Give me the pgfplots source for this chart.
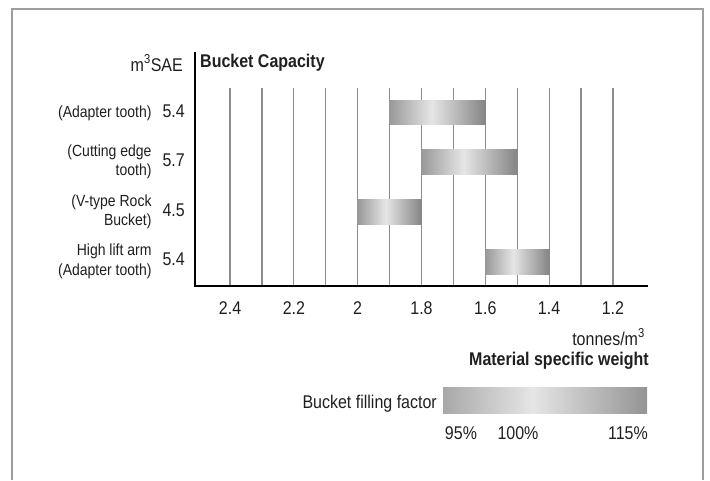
\documentclass[border=0pt]{standalone}
\usepackage{graphicx}
\usepackage{pgfplots}
\pgfplotsset{compat=1.18}
\usepackage{fontspec}
\setmainfont{Liberation Sans}

\definecolor{txt}{gray}{0.12}
\definecolor{gridc}{gray}{0.55}
\definecolor{frame}{gray}{0.62}
\definecolor{bL}{gray}{0.60}
\definecolor{bM}{gray}{0.90}
\definecolor{bR}{gray}{0.52}
\definecolor{lL}{gray}{0.66}
\definecolor{lM}{gray}{0.90}
\definecolor{lR}{gray}{0.58}

% path box maps onto 25bp..75bp of the shading
\pgfdeclarehorizontalshading{bucket}{100bp}{color(0bp)=(bL); color(25bp)=(bL); color(47bp)=(bM); color(75bp)=(bR); color(100bp)=(bR)}
\pgfdeclarehorizontalshading{legendbar}{100bp}{color(0bp)=(lL); color(25bp)=(lL); color(47bp)=(lM); color(75bp)=(lR); color(100bp)=(lR)}

\newcommand{\fbig}{\fontsize{16}{19}\selectfont}
\newcommand{\fsml}{\fontsize{14}{17}\selectfont}
% the reference lettering is a little taller than it is wide
\newcommand{\st}[1]{\scalebox{1}[1.15]{#1}}

\begin{document}
\begin{tikzpicture}
\path[use as bounding box] (0pt,0pt) rectangle (710pt,480pt);
\draw[frame, line width=1.5pt] (12pt,0pt) -- (12pt,471pt) -- (703pt,471pt) -- (703pt,0pt);

\begin{axis}[
    at={(195pt,194pt)}, anchor=south west,
    scale only axis, width=453pt, height=198pt,
    xmin=1.09, xmax=2.51, x dir=reverse,
    ymin=0.507, ymax=4.49, y dir=reverse,
    axis line style={draw=none},
    major tick length=0pt, minor tick length=0pt,
    xtick={1.2,1.4,1.6,1.8,2,2.2,2.4},
    minor xtick={1.3,1.5,1.7,1.9,2.1,2.3},
    xmajorgrids, xminorgrids,
    grid style={gridc, line width=1.2pt},
    minor grid style={gridc, line width=1.2pt},
    xticklabel={\st{\pgfmathprintnumber{\tick}}},
    xticklabel style={font=\fbig, text=txt, yshift=-12pt,
        /pgf/number format/assume math mode=true},
    ytick={1,2,3,4},
    yticklabels={
        {\st{{\fsml(Adapter tooth)}\hspace{11pt}5.4}},
        {\st{{\fsml\begin{tabular}{@{}r@{}}(Cutting edge\\tooth)\end{tabular}}\hspace{11pt}5.7}},
        {\st{{\fsml\begin{tabular}{@{}r@{}}(V-type Rock\\Bucket)\end{tabular}}\hspace{11pt}4.5}},
        {\st{{\fsml\begin{tabular}{@{}r@{}}High lift arm\\(Adapter tooth)\end{tabular}}\hspace{11pt}5.4}}
    },
    yticklabel style={font=\fbig, text=txt, anchor=east, xshift=-6.7pt},
]
% density ranges (tonnes/m3) for each bucket
\addplot[draw=none, shading=bucket] coordinates {(1.9,0.75) (1.6,0.75) (1.6,1.25) (1.9,1.25)} -- cycle;
\addplot[draw=none, shading=bucket] coordinates {(1.8,1.75) (1.5,1.75) (1.5,2.25) (1.8,2.25)} -- cycle;
\addplot[draw=none, shading=bucket] coordinates {(2.0,2.75) (1.8,2.75) (1.8,3.25) (2.0,3.25)} -- cycle;
\addplot[draw=none, shading=bucket] coordinates {(1.6,3.75) (1.4,3.75) (1.4,4.25) (1.6,4.25)} -- cycle;
\end{axis}

\draw[black, line width=2pt] (195pt,428pt) -- (195pt,194pt) -- (648pt,194pt);

\node[anchor=east, font=\fbig, text=txt, inner sep=0pt] at (183pt,417pt) {\st{m\textsuperscript{3}SAE}};
\node[anchor=west, font=\fbig\bfseries, text=txt, inner sep=0pt] at (200pt,417pt) {\st{Bucket Capacity}};
\node[anchor=east, font=\fbig, text=txt, inner sep=0pt] at (645pt,143pt) {\st{tonnes/m\textsuperscript{3}}};
\node[anchor=east, font=\fbig\bfseries, text=txt, inner sep=0pt] at (649pt,119pt) {\st{Material specific weight}};

\node[anchor=east, font=\fbig, text=txt, inner sep=0pt] at (437pt,76pt) {\st{Bucket filling factor}};
\shade[shading=legendbar] (443pt,67pt) rectangle (647pt,93pt);
\node[font=\fbig, text=txt, inner sep=0pt] at (461pt,47pt) {\st{95\%}};
\node[font=\fbig, text=txt, inner sep=0pt] at (518pt,47pt) {\st{100\%}};
\node[anchor=east, font=\fbig, text=txt, inner sep=0pt] at (648pt,47pt) {\st{115\%}};
\end{tikzpicture}
\end{document}
